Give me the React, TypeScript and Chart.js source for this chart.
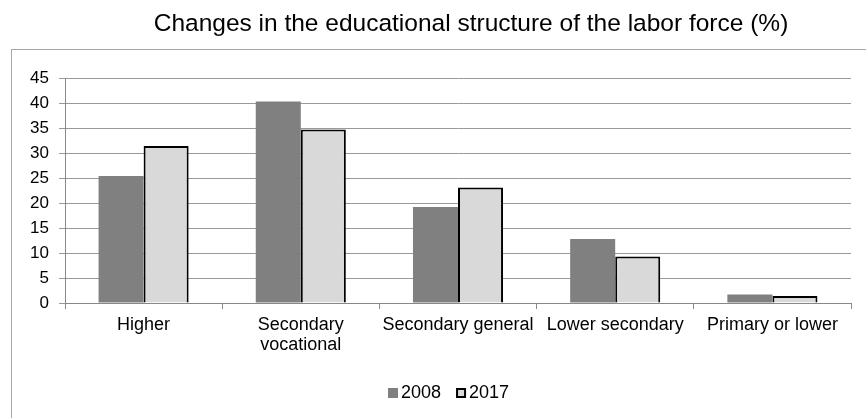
import React, { useEffect, useRef } from "react";
import { Chart, registerables } from "chart.js";

Chart.register(...registerables);

const TITLE = "Changes in the educational structure of the labor force (%)";
const categories: (string | string[])[] = [
  "Higher",
  ["Secondary", "vocational"],
  "Secondary general",
  "Lower secondary",
  "Primary or lower",
];
const series2008 = [25.4, 40.3, 19.2, 12.8, 1.7];
const series2017 = [31.4, 34.7, 23.1, 9.3, 1.4];
const yTicks = [0, 5, 10, 15, 20, 25, 30, 35, 40, 45];

const FONT = "'Liberation Sans', Arial, sans-serif";

// Frame, title and legend drawn around the plot area
const framePlugin = {
  id: "frame",
  beforeDraw(chart: any) {
    const ctx = chart.ctx;
    ctx.save();
    ctx.fillStyle = "#ffffff";
    ctx.fillRect(0, 0, chart.width, chart.height);
    ctx.strokeStyle = "#a6a6a6";
    ctx.lineWidth = 1;
    ctx.strokeRect(11.5, 49.5, chart.width + 50, chart.height + 50);

    ctx.fillStyle = "#000000";
    ctx.font = `24.5px ${FONT}`;
    ctx.textAlign = "center";
    ctx.textBaseline = "middle";
    ctx.fillText(TITLE, 471, 24);
    ctx.restore();
  },
  afterDraw(chart: any) {
    const ctx = chart.ctx;
    ctx.save();
    ctx.font = `18px ${FONT}`;
    ctx.textBaseline = "middle";
    ctx.textAlign = "left";
    const y = 393;
    let x = 388;
    chart.data.datasets.forEach((ds: any) => {
      const bw = ds.borderWidth || 0;
      ctx.fillStyle = ds.backgroundColor;
      ctx.fillRect(x, y - 5, 10, 10);
      if (bw > 0) {
        ctx.strokeStyle = ds.borderColor;
        ctx.lineWidth = 2;
        ctx.strokeRect(x + 1, y - 4, 8, 8);
      }
      ctx.fillStyle = "#000000";
      ctx.fillText(ds.label, x + 13, y);
      x += 13 + ctx.measureText(ds.label).width + 15;
    });
    ctx.restore();
  },
};

export default function App() {
  const ref = useRef<HTMLCanvasElement | null>(null);

  useEffect(() => {
    if (!ref.current) return;
    const chart = new Chart(ref.current, {
      type: "bar",
      data: {
        labels: categories,
        datasets: [
          {
            label: "2008",
            data: series2008,
            backgroundColor: "#808080",
            borderWidth: 0,
          },
          {
            label: "2017",
            data: series2017,
            backgroundColor: "#d9d9d9",
            borderColor: "#000000",
            borderWidth: 2,
          },
        ],
      },
      options: {
        responsive: false,
        animation: false,
        devicePixelRatio: 1,
        layout: { padding: { left: 0, top: 78, right: 15, bottom: 0 } },
        datasets: {
          bar: { categoryPercentage: 0.573, barPercentage: 1 },
        },
        plugins: {
          legend: { display: false },
          title: { display: false },
          tooltip: { enabled: false },
        },
        scales: {
          x: {
            grid: {
              offset: true,
              drawOnChartArea: false,
              drawTicks: true,
              tickLength: 6,
              color: "#888888",
            },
            border: { color: "#888888", width: 1 },
            ticks: {
              color: "#000000",
              font: { family: FONT, size: 18, lineHeight: 1.1 },
              maxRotation: 0,
              minRotation: 0,
              autoSkip: false,
              padding: 6,
            },
            afterFit: (s: any) => {
              s.height = 115;
            },
          },
          y: {
            min: 0,
            max: 45,
            afterBuildTicks: (s: any) => {
              s.ticks = yTicks.map((v) => ({ value: v }));
            },
            grid: {
              color: "#999999",
              tickLength: 6,
              drawTicks: true,
            },
            border: { color: "#888888", width: 1 },
            ticks: {
              color: "#000000",
              font: { family: FONT, size: 17 },
              padding: 10,
            },
            afterFit: (s: any) => {
              s.width = 65;
            },
          },
        },
      },
      plugins: [framePlugin],
    });
    return () => chart.destroy();
  }, []);

  return (
    <div style={{ position: "absolute", left: 0, top: 0, width: 866, height: 418 }}>
      <canvas ref={ref} width={866} height={418} />
    </div>
  );
}
